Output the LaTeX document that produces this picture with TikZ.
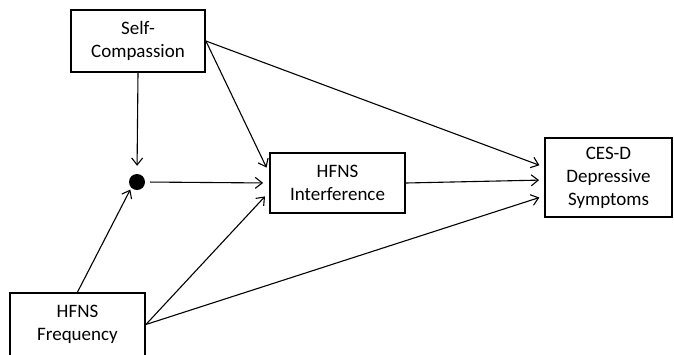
\documentclass[tikz,border=0pt]{standalone}
\usepackage{fontspec}
\setmainfont{Carlito}
\usetikzlibrary{arrows.meta}
\begin{document}
\begin{tikzpicture}[x=1pt,y=1pt,yscale=-1,xscale=1,
  box/.style={draw, line width=1.8pt, align=center, inner sep=0pt, font=\fontsize{19}{23}\selectfont},
  link/.style={line width=1.1pt, -{Straight Barb[length=7pt,width=11pt,line width=1.1pt]}}]
\useasboundingbox (0,0) rectangle (674,354);

%Shape: Rectangle [id:selfc]
\draw (138,41) node [box, minimum width=134, minimum height=62] (selfc) {Self-\\Compassion};
%Shape: Rectangle [id:freq]
\draw (77.5,324.5) node [box, minimum width=135, minimum height=63] (freq) {HFNS\\Frequency};
%Shape: Rectangle [id:inter]
\draw (337.5,183) node [box, minimum width=135, minimum height=60] (inter) {HFNS\\Interference};
%Shape: Rectangle [id:cesd]
\draw (608.5,177.5) node [box, minimum width=127, minimum height=79] (cesd) {CES-D\\Depressive\\Symptoms};
%Shape: Circle [id:dot]
\draw (137,182) node [circle, fill, inner sep=0pt, minimum size=16] (dot) {};

%Straight Lines
\draw [link, shorten >=8pt] (selfc.south) -- (dot.north);
\draw [link, shorten >=2pt] (freq.north) -- (dot.south west);
\draw [link, shorten <=5pt, shorten >=6pt] (dot.east) -- (inter.west);
\draw [link, shorten >=6pt] (selfc.east) -- ([yshift=-10pt]inter.west);
\draw [link, shorten >=6pt] (freq.east) -- ([yshift=9pt]inter.west);
\draw [link, shorten >=5pt] (selfc.east) -- ([yshift=-10.5pt]cesd.west);
\draw [link, shorten >=5pt] (inter.east) -- ([yshift=2.5pt]cesd.west);
\draw [link, shorten >=5pt] (freq.east) -- ([yshift=18.5pt]cesd.west);

\end{tikzpicture}
\end{document}
